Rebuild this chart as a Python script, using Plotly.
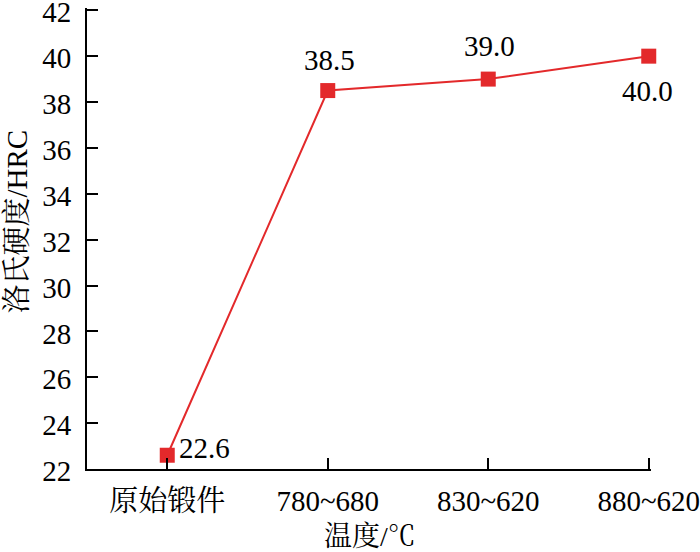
import plotly.graph_objects as go

categories = ["原始锻件", "780~680", "830~620", "880~620"]
hardness = [22.6, 38.5, 39.0, 40.0]
labels = ["22.6", "38.5", "39.0", "40.0"]
y_ticks = [22, 24, 26, 28, 30, 32, 34, 36, 38, 40, 42]

# label placement (style): anchor and pixel offsets from each marker
label_xanchor = ["left", "center", "center", "center"]
label_xshift = [10, 2, 1, -1]
label_yshift = [7, 31, 33, -35]

FONT = "'Liberation Serif', 'Times New Roman', Times, 'Noto Serif CJK SC', 'Noto Sans CJK SC', serif"
RED = "#e3292b"

x_idx = list(range(len(categories)))

fig = go.Figure()
fig.add_trace(go.Scatter(
    x=x_idx,
    y=hardness,
    mode="lines+markers",
    line=dict(color=RED, width=2),
    marker=dict(symbol="square", size=15, color=RED),
    cliponaxis=False,
    showlegend=False,
))

for xi, yv, txt, xa, xs, ys in zip(x_idx, hardness, labels, label_xanchor, label_xshift, label_yshift):
    fig.add_annotation(
        x=xi, y=yv, xref="x", yref="y", text=txt, showarrow=False,
        xanchor=xa, yanchor="middle", xshift=xs, yshift=ys,
        font=dict(family=FONT, size=29, color="black"),
    )

fig.add_annotation(
    x=-0.1250, y=0.5358, xref="paper", yref="paper", text="洛氏硬度/HRC",
    showarrow=False, textangle=-90, xanchor="center", yanchor="middle",
    font=dict(family=FONT, size=29, color="black"),
)
fig.add_annotation(
    x=0.5018, y=-0.1475, xref="paper", yref="paper", text="温度/℃",
    showarrow=False, xanchor="center", yanchor="middle",
    font=dict(family=FONT, size=28, color="black"),
)

fig.update_layout(
    width=700, height=552,
    margin=dict(l=87, r=49, t=8, b=83, autoexpand=False),
    paper_bgcolor="white", plot_bgcolor="white",
    font=dict(family=FONT, size=29, color="black"),
)
fig.update_xaxes(
    range=[-0.5, 3.014],
    tickmode="array",
    tickvals=x_idx,
    ticktext=categories,
    ticks="inside", ticklen=11, tickwidth=2, tickcolor="black",
    showline=True, linecolor="black", linewidth=2,
    showgrid=False, zeroline=False, automargin=False,
    ticklabelstandoff=5, ticklabeloverflow="allow",
)
fig.update_yaxes(
    range=[22, 42.1],
    tickmode="array",
    tickvals=y_ticks,
    ticks="inside", ticklen=11, tickwidth=2, tickcolor="black",
    showline=True, linecolor="black", linewidth=2,
    showgrid=False, zeroline=False, automargin=False,
    ticklabelstandoff=8, ticklabeloverflow="allow", ticklabelshift=2,
)

fig.write_html(
    "out.html",
    config={"displayModeBar": False},
    post_script="document.body.style.margin='0';",
)
